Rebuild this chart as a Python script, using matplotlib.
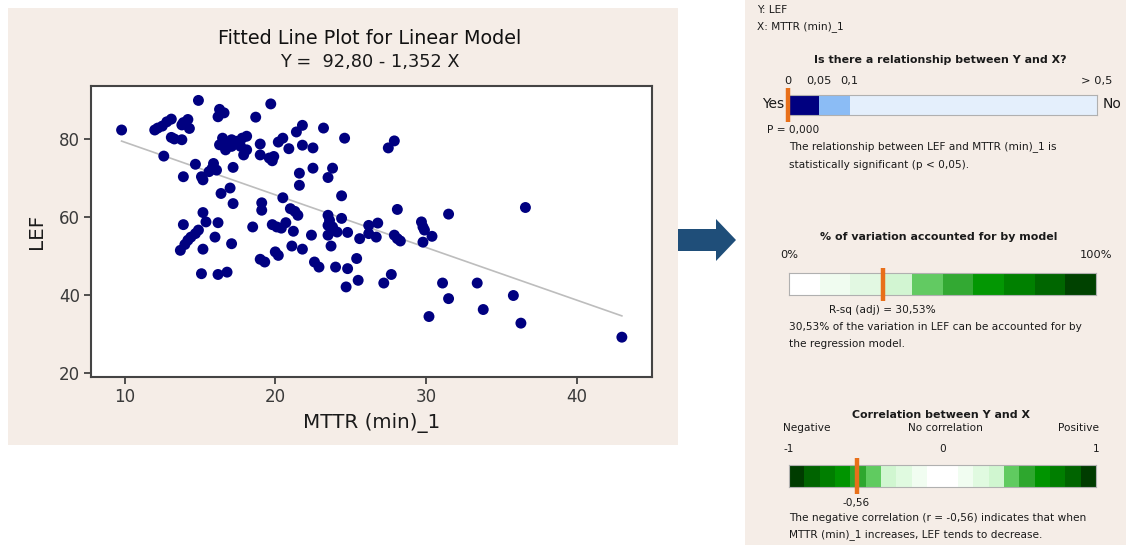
import numpy as np
import matplotlib.pyplot as plt
from matplotlib.patches import Rectangle, Polygon

plt.rcParams['font.family'] = ['DejaVu Sans']

# observations: MTTR (min)_1 (x) against LEF (y)
mttr = [9.8, 12.0, 12.2, 12.5, 12.8, 13.1, 13.9, 14.2, 14.3, 13.8,
        13.1, 13.3, 13.8, 14.9, 16.3, 16.4, 16.6, 16.2, 12.6, 14.7,
        13.9, 15.1, 15.2, 15.9, 15.8, 16.1, 15.6, 16.4, 17.0, 16.3,
        16.5, 16.7, 16.9, 17.1, 17.1, 17.4, 17.8, 18.1, 17.7, 18.1,
        17.9, 18.7, 19.7, 19.0, 19.0, 19.6, 19.9, 19.8, 20.2, 20.5,
        20.9, 21.4, 21.8, 21.8, 22.5, 23.2, 24.6, 21.6, 22.5, 21.6,
        23.8, 23.5, 17.2, 20.5, 24.4, 17.2, 15.2, 15.4, 16.2, 13.9,
        14.9, 14.7, 14.4, 14.2, 14.0, 13.7, 16.0, 15.2, 17.1, 15.1,
        16.2, 16.8, 19.1, 19.1, 21.0, 21.3, 21.5, 18.5, 19.8, 20.1,
        20.4, 20.7, 21.2, 22.4, 21.1, 21.8, 23.5, 23.6, 23.5, 23.8,
        24.1, 23.5, 24.4, 24.8, 23.7, 19.0, 19.3, 20.0, 20.2, 22.6,
        22.9, 24.0, 24.8, 24.7, 25.4, 25.5, 28.1, 31.5, 26.2, 26.8,
        26.2, 26.7, 25.6, 27.9, 28.1, 28.3, 29.7, 29.8, 29.9, 30.4,
        29.8, 27.2, 27.7, 31.1, 33.4, 31.5, 33.8, 35.8, 30.2, 36.3,
        43.0, 36.6, 27.5, 27.9]
lef = [82.4, 82.4, 82.9, 83.4, 84.5, 85.2, 84.3, 85.1, 82.8, 83.7,
       80.5, 80.1, 79.9, 90.0, 87.7, 86.7, 86.8, 85.8, 75.7, 73.6,
       70.4, 70.4, 69.6, 73.8, 72.5, 72.1, 71.7, 66.1, 67.5, 78.6,
       80.3, 77.3, 79.0, 79.9, 78.2, 79.5, 80.3, 80.8, 78.2, 77.3,
       76.0, 85.7, 89.1, 78.8, 76.0, 75.2, 75.6, 74.5, 79.3, 80.3,
       77.6, 81.9, 83.6, 78.5, 77.8, 82.9, 80.3, 71.3, 72.6, 68.2,
       72.6, 70.2, 72.8, 65.0, 65.5, 63.5, 61.2, 58.8, 58.6, 58.1,
       56.7, 55.8, 54.9, 54.1, 53.0, 51.5, 54.9, 51.8, 53.2, 45.5,
       45.3, 45.9, 63.7, 61.8, 62.2, 61.5, 60.5, 57.5, 58.1, 57.5,
       57.2, 58.6, 56.4, 55.4, 52.6, 51.8, 60.5, 59.2, 57.9, 57.5,
       56.2, 55.4, 59.7, 56.1, 52.6, 49.2, 48.5, 51.1, 50.2, 48.5,
       47.2, 47.2, 46.8, 42.1, 49.4, 43.8, 62.0, 60.8, 57.9, 58.5,
       55.8, 54.9, 54.5, 55.4, 54.5, 53.9, 58.8, 57.5, 56.7, 55.1,
       53.6, 43.1, 45.3, 43.1, 43.1, 39.1, 36.3, 39.9, 34.5, 32.8,
       29.2, 62.5, 77.8, 79.6]

# fitted model and summary statistics
intercept = 92.80
slope = -1.352
p_value = 0.000
r_sq_adj = 30.53
r_corr = -0.56

# p-value gauge: break points and their position along the bar
p_breaks = [0, 0.05, 0.1, 0.5]
p_pos = [0, 1, 2, 10]
p_labels = ['0', '0,05', '0,1']
p_colors = ['#000080', '#8BBCF5', '#E4EFFC']

# R-sq gauge: ten bands of 10 %
rsq_colors = ['#FFFFFF', '#F0FCF0', '#E2F8E2', '#D2F5D2', '#62CA62',
              '#33A933', '#039703', '#008000', '#006600', '#004200']

# correlation gauge: twenty bands of 0.1 from -1 to 1
half = ['#003C00', '#006400', '#007E00', '#009400', '#2EA72E',
        '#60CB60', '#D0F6D0', '#E0FAE0', '#F1FDF1', '#FFFFFF']
corr_colors = half + half[::-1]

BEIGE = '#F5EDE7'
ORANGE = '#E8701A'
TXT = '#1A1A1A'

W, H = 1126, 545
fig = plt.figure(figsize=(W / 100, H / 100), dpi=100)
fig.patch.set_facecolor('white')

# full-figure layer in pixel units for panels, arrow and text
bg = fig.add_axes([0, 0, 1, 1])
bg.set_xlim(0, W)
bg.set_ylim(H, 0)
bg.axis('off')
bg.add_patch(Rectangle((8, 8), 670, 437, facecolor=BEIGE, edgecolor='none'))
bg.add_patch(Rectangle((745, 0), 381, 545, facecolor=BEIGE, edgecolor='none'))
bg.add_patch(Polygon([(678, 229), (716, 229), (716, 219), (736, 240),
                      (716, 261), (716, 251), (678, 251)],
                     closed=True, facecolor='#1F4E79', edgecolor='none'))

# ---- fitted line plot ----
ax = fig.add_axes([91 / W, 1 - 376.5 / H, 561 / W, 290.5 / H])
ax.set_facecolor('white')
ax.scatter(mttr, lef, s=62, color='#000080', edgecolors='none', zorder=3)
xfit = np.array([min(mttr), max(mttr)])
ax.plot(xfit, intercept + slope * xfit, color='#BDBDBD', lw=1.2, zorder=2)
ax.set_xlim(7.77, 45.0)
ax.set_ylim(19.1, 93.7)
ax.set_xticks([10, 20, 30, 40])
ax.set_yticks([20, 40, 60, 80])
ax.tick_params(direction='out', length=5, width=1.2, color='#333333',
               labelsize=12, labelcolor='#3A3A3A', pad=3)
for sp in ax.spines.values():
    sp.set_color('#444444')
    sp.set_linewidth(1.5)
ax.set_xlabel('MTTR (min)_1', fontsize=14.3, color=TXT, labelpad=5)
ax.set_ylabel('LEF', fontsize=14.3, color=TXT, labelpad=9)

bg.text(370, 38, 'Fitted Line Plot for Linear Model', fontsize=13.8,
        ha='center', va='center', color='#111111')
eq = f'Y =  {intercept:.2f} - {abs(slope):.3f} X'.replace('.', ',')
bg.text(370, 62, eq, fontsize=12.8, ha='center', va='center', color=TXT)

# ---- summary report ----
small = 7.6
head = 7.9
bg.text(757, 10, 'Y: LEF', fontsize=small, va='center', color=TXT)
bg.text(757, 27, 'X: MTTR (min)_1', fontsize=small, va='center', color=TXT)

# p-value gauge
bg.text(940, 60, 'Is there a relationship between Y and X?', fontsize=head,
        fontweight='bold', ha='center', va='center', color=TXT)
axp = fig.add_axes([788 / W, 1 - 115 / H, 309 / W, 20 / H])
for i, c in enumerate(p_colors):
    axp.axvspan(p_pos[i], p_pos[i + 1], color=c, lw=0)
axp.set_xlim(p_pos[0], p_pos[-1])
axp.set_ylim(0, 1)
axp.set_xticks([])
axp.set_yticks([])
for sp in axp.spines.values():
    sp.set_color('#B0B0B0')
    sp.set_linewidth(0.8)
p_mark = np.interp(p_value, p_breaks, p_pos)
axp.plot([p_mark, p_mark], [-0.35, 1.35], color=ORANGE, lw=3.2,
         clip_on=False, solid_capstyle='butt', zorder=5)
for pos, lab in zip(p_pos[:3], p_labels):
    axp.text(pos, 1.45, lab, transform=axp.get_xaxis_transform(), fontsize=8.2,
             ha='center', va='bottom', color=TXT)
axp.text(p_pos[-1] + 0.5, 1.45, '> 0,5', transform=axp.get_xaxis_transform(),
         fontsize=8.2, ha='right', va='bottom', color=TXT)
bg.text(784, 104, 'Yes', fontsize=10, ha='right', va='center', color=TXT)
bg.text(1103, 104, 'No', fontsize=10, ha='left', va='center', color=TXT)
bg.text(767, 130, f'P = {p_value:.3f}'.replace('.', ','), fontsize=small,
        va='center', color=TXT)
bg.text(789, 147, 'The relationship between LEF and MTTR (min)_1 is',
        fontsize=small, va='center', color=TXT)
bg.text(789, 165, 'statistically significant (p < 0,05).', fontsize=small,
        va='center', color=TXT)

# R-sq gauge
bg.text(939, 237, '% of variation accounted for by model', fontsize=head,
        fontweight='bold', ha='center', va='center', color=TXT)
axr = fig.add_axes([789 / W, 1 - 295 / H, 307 / W, 22 / H])
for i, c in enumerate(rsq_colors):
    axr.axvspan(i * 10, (i + 1) * 10, color=c, lw=0)
axr.set_xlim(0, 100)
axr.set_ylim(0, 1)
axr.set_xticks([])
axr.set_yticks([])
for sp in axr.spines.values():
    sp.set_color('#B0B0B0')
    sp.set_linewidth(0.8)
axr.plot([r_sq_adj, r_sq_adj], [-0.25, 1.25], color=ORANGE, lw=3.2,
         clip_on=False, solid_capstyle='butt', zorder=5)
axr.text(0, 1.6, '0%', transform=axr.get_xaxis_transform(), fontsize=8.2,
         ha='center', va='bottom', color=TXT)
axr.text(100, 1.6, '100%', transform=axr.get_xaxis_transform(), fontsize=8.2,
         ha='center', va='bottom', color=TXT)
axr.text(r_sq_adj, -0.45, f'R-sq (adj) = {r_sq_adj:.2f}%'.replace('.', ','),
         transform=axr.get_xaxis_transform(), fontsize=small, ha='center',
         va='top', color=TXT)
bg.text(789, 327, f'{r_sq_adj:.2f}% of the variation in LEF can be accounted for by'
        .replace('.', ',', 1), fontsize=small, va='center', color=TXT)
bg.text(789, 344, 'the regression model.', fontsize=small, va='center', color=TXT)

# correlation gauge
bg.text(941, 415, 'Correlation between Y and X', fontsize=head,
        fontweight='bold', ha='center', va='center', color=TXT)
axc = fig.add_axes([789 / W, 1 - 487 / H, 307 / W, 22 / H])
edges = np.linspace(-1, 1, len(corr_colors) + 1)
for i, c in enumerate(corr_colors):
    axc.axvspan(edges[i], edges[i + 1], color=c, lw=0)
axc.set_xlim(-1, 1)
axc.set_ylim(0, 1)
axc.set_xticks([])
axc.set_yticks([])
for sp in axc.spines.values():
    sp.set_color('#B0B0B0')
    sp.set_linewidth(0.8)
axc.plot([r_corr, r_corr], [-0.3, 1.3], color=ORANGE, lw=3.2,
         clip_on=False, solid_capstyle='butt', zorder=5)
tr = axc.get_xaxis_transform()
for v, lab in zip([-1, 0, 1], ['-1', '0', '1']):
    axc.text(v, 1.5, lab, transform=tr, fontsize=small, ha='center',
             va='bottom', color=TXT)
axc.text(-1.04, 2.45, 'Negative', transform=tr, fontsize=small, ha='left',
         va='bottom', color=TXT)
axc.text(0.02, 2.45, 'No correlation', transform=tr, fontsize=small,
         ha='center', va='bottom', color=TXT)
axc.text(1.02, 2.45, 'Positive', transform=tr, fontsize=small, ha='right',
         va='bottom', color=TXT)
axc.text(r_corr, -0.5, f'{r_corr:.2f}'.replace('.', ','), transform=tr,
         fontsize=small, ha='center', va='top', color=TXT)
bg.text(789, 518, f'The negative correlation (r = {r_corr:.2f}) indicates that when'
        .replace('.', ','), fontsize=small, va='center', color=TXT)
bg.text(789, 535, 'MTTR (min)_1 increases, LEF tends to decrease.',
        fontsize=small, va='center', color=TXT)

fig.savefig('out.png', dpi=100, facecolor='white')
